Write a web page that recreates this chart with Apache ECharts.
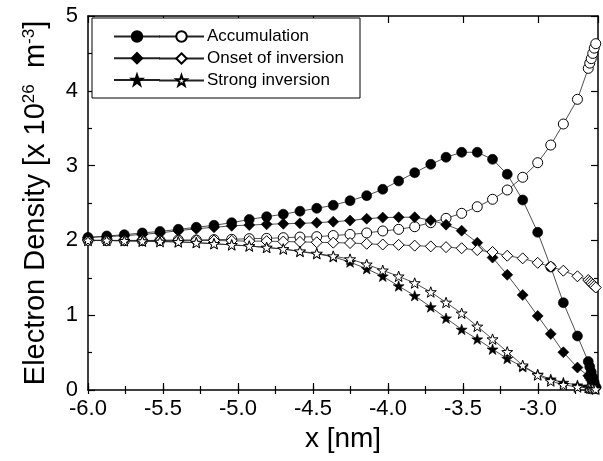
<!DOCTYPE html>
<html><head><meta charset="utf-8">
<script src="https://cdn.jsdelivr.net/npm/echarts@6/dist/echarts.min.js"></script>
<style>html,body{margin:0;padding:0;background:#fff}#c{width:603px;height:461px}</style>
</head><body><div id="c"></div>
<script>
// x positions of mesh points [nm]
const xNm = [-6.000,-5.875,-5.758,-5.638,-5.520,-5.398,-5.278,-5.160,-5.042,-4.925,
  -4.809,-4.698,-4.587,-4.475,-4.365,-4.253,-4.142,-4.035,-3.929,-3.822,
  -3.715,-3.613,-3.509,-3.405,-3.303,-3.205,-3.102,-3.002,-2.915,-2.831,
  -2.737,-2.665,-2.655,-2.645,-2.635,-2.625,-2.615];
// Accumulation
const accFilled = [2.04,2.059,2.076,2.10,2.12,2.148,2.175,2.202,2.237,2.28,
  2.317,2.35,2.39,2.429,2.469,2.531,2.598,2.683,2.794,2.905,
  3.017,3.111,3.178,3.178,3.084,2.884,2.54,2.108,1.644,1.167,
  0.722,0.38,0.31,0.24,0.17,0.10,0.04];
const accOpen = [2.0,1.996,1.996,1.996,2.0,2.005,2.005,2.01,2.014,2.023,
  2.027,2.036,2.045,2.05,2.065,2.08,2.10,2.126,2.148,2.183,
  2.237,2.295,2.362,2.45,2.55,2.674,2.844,3.039,3.275,3.556,
  3.886,4.30,4.37,4.43,4.50,4.57,4.63];
// Onset of inversion
const onsetFilled = [2.04,2.05,2.063,2.08,2.10,2.13,2.156,2.175,2.195,2.205,
  2.215,2.222,2.228,2.236,2.25,2.265,2.29,2.305,2.31,2.31,
  2.27,2.21,2.13,1.97,1.77,1.54,1.27,0.99,0.75,0.505,
  0.30,0.19,0.16,0.13,0.10,0.07,0.04];
const onsetOpen = [2.0,2.0,2.0,2.0,2.0,2.0,2.0,1.998,1.995,1.99,
  1.99,1.985,1.98,1.975,1.97,1.965,1.955,1.945,1.94,1.93,
  1.92,1.91,1.895,1.87,1.845,1.795,1.76,1.70,1.65,1.595,
  1.52,1.47,1.45,1.43,1.41,1.39,1.37];
// Strong inversion
const strongFilled = [2.0,2.0,1.995,1.99,1.985,1.98,1.97,1.955,1.94,1.925,
  1.905,1.885,1.85,1.82,1.78,1.71,1.62,1.52,1.39,1.26,
  1.11,0.96,0.81,0.68,0.545,0.42,0.31,0.21,0.145,0.10,
  0.065,0.05,0.045,0.04,0.035,0.03,0.025];
const strongOpen = [2.0,2.0,1.995,1.99,1.985,1.98,1.97,1.955,1.94,1.925,
  1.905,1.885,1.855,1.825,1.79,1.75,1.68,1.60,1.52,1.43,
  1.31,1.17,1.025,0.85,0.68,0.51,0.33,0.20,0.12,0.07,
  0.04,0.03,0.025,0.02,0.02,0.015,0.01];
const seriesNames = ['Accumulation','Onset of inversion','Strong inversion'];

const FONT = "'Liberation Sans', Arial, Helvetica, sans-serif";
const STAR = 'path://M0,-10L2.35,-3.24L9.51,-3.09L3.8,1.24L5.88,8.09L0,4L-5.88,8.09L-3.8,1.24L-9.51,-3.09L-2.35,-3.24Z';
const pts = arr => xNm.map((x, i) => [x, arr[i]]);

function mk(name, arr, symbol, filled, size) {
  return {
    name: name, type: 'line', data: pts(arr),
    xAxisIndex: 0, yAxisIndex: 0,
    symbol: symbol, symbolSize: size, symbolKeepAspect: true,
    showAllSymbol: true, silent: true, animation: false,
    lineStyle: { color: '#222', width: 0.8 },
    itemStyle: filled ? { color: '#000', borderColor: '#000', borderWidth: 0.6 }
                      : { color: '#fff', borderColor: '#000', borderWidth: 1 },
    emphasis: { disabled: true }
  };
}

const series = [
  mk('acc_f', accFilled, 'circle', true, 10),
  mk(seriesNames[0], accOpen, 'circle', false, 10),
  mk('ons_f', onsetFilled, 'diamond', true, 11),
  mk(seriesNames[1], onsetOpen, 'diamond', false, 11),
  mk('str_f', strongFilled, STAR, true, 11),
  mk(seriesNames[2], strongOpen, STAR, false, 11)
];

const axLine = { show: true, onZero: false, lineStyle: { color: '#000', width: 1.5 } };
const tickMajor = { show: true, inside: true, length: 7, lineStyle: { color: '#000', width: 1.2 } };
const tickMinor = { show: true, inside: true, length: 4, lineStyle: { color: '#000', width: 1.2 } };
const xBase = { type: 'value', min: -6, max: -2.6, splitLine: { show: false } };

const option = {
  animation: false,
  backgroundColor: '#fff',
  grid: { left: 88, right: 5, top: 16, bottom: 71, containLabel: false },
  legend: [
    {
      data: ['acc_f', 'ons_f', 'str_f'],
      orient: 'vertical', left: 113, top: 30, padding: 0,
      itemWidth: 46, itemHeight: 13, itemGap: 9, z: 20,
      formatter: () => '', selectedMode: false,
      textStyle: { fontSize: 17, fontFamily: FONT }
    },
    {
      data: seriesNames,
      orient: 'vertical', left: 92, top: 18, padding: [10, 16, 9, 66],
      itemWidth: 45, itemHeight: 13, itemGap: 5, z: 10,
      backgroundColor: '#fff', borderColor: '#000', borderWidth: 1,
      selectedMode: false,
      textStyle: { fontSize: 17, color: '#000', fontFamily: FONT, padding: [0, 0, 0, -2] }
    }
  ],
  xAxis: [
    Object.assign({}, xBase, {
      position: 'bottom', interval: 0.5, axisLine: axLine, axisTick: tickMajor,
      axisLabel: { formatter: v => v.toFixed(1), showMaxLabel: false, fontSize: 22, color: '#000', margin: 8, fontFamily: FONT },
      name: 'x [nm]', nameLocation: 'middle', nameGap: 32,
      nameTextStyle: { fontSize: 28, color: '#000', fontFamily: FONT }
    }),
    Object.assign({}, xBase, { position: 'bottom', interval: 0.25, axisLine: { show: false }, axisTick: tickMinor, axisLabel: { show: false } }),
    Object.assign({}, xBase, { position: 'top', interval: 0.5, axisLine: axLine, axisTick: tickMajor, axisLabel: { show: false } }),
    Object.assign({}, xBase, { position: 'top', interval: 0.25, axisLine: { show: false }, axisTick: tickMinor, axisLabel: { show: false } })
  ],
  yAxis: [
    {
      type: 'value', position: 'left', min: 0, max: 5, interval: 1,
      axisLine: axLine, axisTick: tickMajor,
      minorTick: { show: true, splitNumber: 2, length: 4, lineStyle: { color: '#000', width: 1.2 } },
      splitLine: { show: false }, minorSplitLine: { show: false },
      axisLabel: { fontSize: 22, color: '#000', margin: 10, fontFamily: FONT },
      name: '{a|Electron Density [x 10}{s|26}{a|  m}{s|-3}{a|]}',
      nameLocation: 'middle', nameGap: 38,
      nameTextStyle: {
        fontFamily: FONT, color: '#000',
        rich: {
          a: { fontSize: 29, fontFamily: FONT, color: '#000' },
          s: { fontSize: 17, fontFamily: FONT, color: '#000', verticalAlign: 'top', padding: [0, 0, 10, 0] }
        }
      }
    },
    {
      type: 'value', position: 'right', min: 0, max: 5, interval: 1,
      axisLine: axLine, axisTick: tickMajor,
      minorTick: { show: true, splitNumber: 2, length: 4, lineStyle: { color: '#000', width: 1.2 } },
      splitLine: { show: false }, axisLabel: { show: false }
    }
  ],
  series: series
};

const chart = echarts.init(document.getElementById('c'), null, { renderer: 'canvas' });
chart.setOption(option);
</script>
</body></html>
